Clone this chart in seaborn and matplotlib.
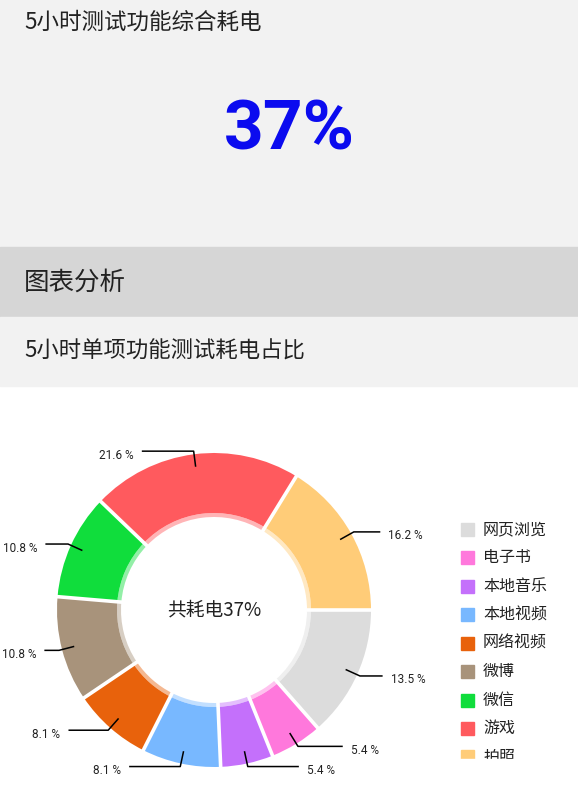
import numpy as np
import matplotlib
matplotlib.use("Agg")
import matplotlib.pyplot as plt
from matplotlib.patches import Rectangle
import seaborn as sns

# data
categories = ['网页浏览', '电子书', '本地音乐', '本地视频', '网络视频', '微博', '微信', '游戏', '拍照']
shares = [13.5, 5.4, 5.4, 8.1, 8.1, 10.8, 10.8, 21.6, 16.2]
hex_colors = ['#dcdcdc', '#ff78dc', '#c470fb', '#78b8ff', '#e8620c',
              '#a8937b', '#10dd3c', '#ff5a5e', '#ffcc78']
total_text = '37%'
title_top = '5小时测试功能综合耗电'
band_text = '图表分析'
title_chart = '5小时单项功能测试耗电占比'
center_text = '共耗电37%'

sns.set_style('white')
plt.rcParams['font.family'] = ['Noto Sans CJK SC', 'DejaVu Sans']
palette = sns.color_palette(hex_colors)

W, H = 578, 800
fig = plt.figure(figsize=(W / 100, H / 100), dpi=100)
ax = fig.add_axes([0, 0, 1, 1])


def Y(py):
    # pixel row (from top) -> data y
    return H - py


# background panels
ax.add_patch(Rectangle((0, Y(247)), W, 247, color='#f2f2f2', zorder=0))
ax.add_patch(Rectangle((0, Y(317)), W, 70, color='#d6d6d6', zorder=0))
ax.add_patch(Rectangle((0, Y(386)), W, 69, color='#f2f2f2', zorder=0))

ax.text(24, Y(22), title_top, fontsize=16.2, color='#222222', va='center', ha='left')
ax.text(289, Y(131), total_text, fontsize=50, fontweight='bold', color='#0b0bef',
        family=['Roboto', 'DejaVu Sans'], va='center', ha='center')
ax.text(24, Y(283), band_text, fontsize=18.4, color='#222222', va='center', ha='left')
ax.text(24, Y(351), title_chart, fontsize=16.1, color='#222222', va='center', ha='left')

# donut
cx, cy, R = 214, Y(610), 157
wedges, _ = ax.pie(shares, colors=palette, startangle=0, counterclock=False,
                   radius=R, center=(cx, cy), frame=True,
                   wedgeprops=dict(width=60, edgecolor='none', linewidth=0))
# faint inner rim
ax.pie(shares, colors=[(*c, 0.45) for c in palette], startangle=0, counterclock=False,
       radius=R - 60, center=(cx, cy), frame=True,
       wedgeprops=dict(width=4, edgecolor='none', linewidth=0))
# white gaps between slices
for w in wedges:
    a = np.deg2rad(w.theta1)
    ax.plot([cx + 90 * np.cos(a), cx + (R + 3) * np.cos(a)],
            [cy + 90 * np.sin(a), cy + (R + 3) * np.sin(a)],
            color='white', lw=2.6, solid_capstyle='butt', zorder=3)

ax.text(cx, cy, center_text, fontsize=13.5, color='#222222', va='center', ha='center')

# value labels with leader lines
for w, v in zip(wedges, shares):
    ang = np.deg2rad((w.theta1 + w.theta2) / 2)
    c, s = np.cos(ang), np.sin(ang)
    x0, y0 = cx + 0.92 * R * c, cy + 0.92 * R * s
    x1, y1 = cx + 1.02 * R * c, cy + 1.02 * R * s
    d = 1 if c >= 0 else -1
    x2 = x1 + d * 0.32 * R * abs(s) + d * 2
    ax.plot([x0, x1, x2], [y0, y1, y1], color='black', lw=1.1,
            solid_capstyle='butt', zorder=4)
    ax.text(x2 + d * 8, y1 - 4, f'{v} %', fontsize=8.5, color='#222222',
            family=['Roboto', 'DejaVu Sans'],
            ha='left' if d > 0 else 'right', va='center')

# legend
for i, (name, col) in enumerate(zip(categories, palette)):
    yc = 529.5 + i * 28.43
    ax.add_patch(Rectangle((461, Y(yc) - 6.5), 13, 13, color=col, zorder=3))
    ax.text(483, Y(yc), name, fontsize=11.5, color='#222222', va='center', ha='left', zorder=3)

# bottom of the legend is cut off in the reference
ax.add_patch(Rectangle((455, 0), W - 455, Y(759), color='white', zorder=5))

ax.set_xlim(0, W)
ax.set_ylim(0, H)
ax.set_aspect('equal')
ax.axis('off')

fig.savefig('out.png', dpi=100)
